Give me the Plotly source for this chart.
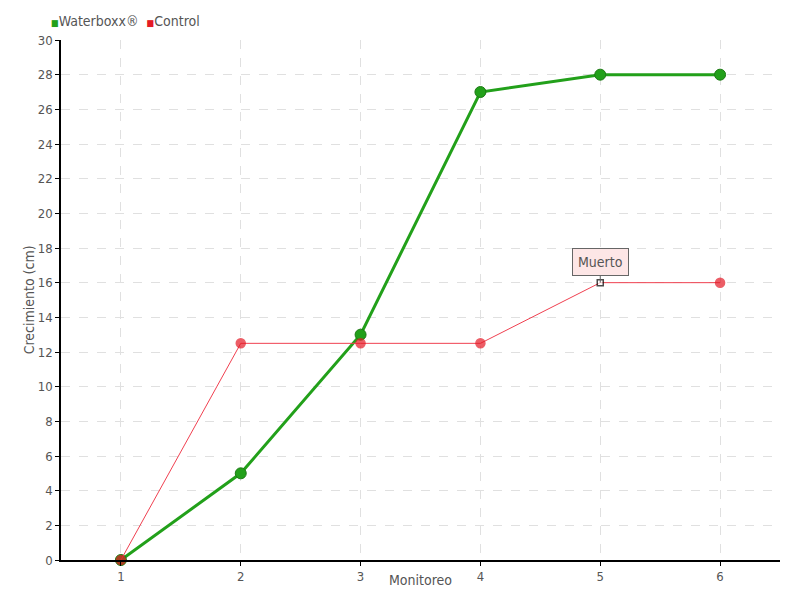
import plotly.graph_objects as go

monitoreo = [1, 2, 3, 4, 5, 6]
waterboxx = [0, 5, 13, 27, 28, 28]
control = [0, 12.5, 12.5, 12.5, 16, 16]
y_ticks = list(range(0, 31, 2))
series_names = ["Waterboxx®", "Control"]
series_colors = ["#22a01a", "#e41a26"]

FONT = "DejaVu Sans Condensed, sans-serif"
FS = 14

fig = go.Figure()
fig.add_trace(go.Scatter(
    x=monitoreo, y=waterboxx, mode="lines+markers", name=series_names[0],
    line=dict(color=series_colors[0], width=3),
    marker=dict(size=11, color=series_colors[0], line=dict(color="#1c7a14", width=1)),
    showlegend=False, cliponaxis=False))
ctrl_symbols = ["circle"] * len(control)
ctrl_colors = [series_colors[1]] * len(control)
ctrl_line = [series_colors[1]] * len(control)
ctrl_sizes = [9] * len(control)
ctrl_symbols[4] = "square"
ctrl_colors[4] = "white"
ctrl_line[4] = "black"
ctrl_sizes[4] = 6
fig.add_trace(go.Scatter(
    x=monitoreo, y=control, mode="lines+markers", name=series_names[1],
    line=dict(color="#f04050", width=1),
    marker=dict(size=ctrl_sizes, color=ctrl_colors, symbol=ctrl_symbols,
                line=dict(color=ctrl_line, width=1.5)),
    showlegend=False, cliponaxis=False))

# legend drawn as text in the top margin
legend_text = "  ".join(
    f"<span style='color:{c};font-size:9px'>■</span>{n}" for n, c in zip(series_names, series_colors))
fig.add_annotation(xref="paper", yref="paper", x=-0.017, y=1.0365, xanchor="left",
                   yanchor="middle", text=legend_text, showarrow=False,
                   font=dict(family=FONT, size=FS, color="#555"))

fig.add_annotation(x=monitoreo[4], y=control[4], text="Muerto", showarrow=True,
                   arrowhead=0, arrowwidth=1, arrowcolor="#666", ax=0, ay=-21,
                   bgcolor="#fde6e6", bordercolor="#666", borderwidth=1, borderpad=5,
                   font=dict(family=FONT, size=FS, color="#555"))

# axis titles as annotations for exact placement
fig.add_annotation(xref="paper", yref="paper", x=0.5, y=-0.0385, xanchor="center",
                   yanchor="middle", text="Monitoreo", showarrow=False,
                   font=dict(family=FONT, size=FS, color="#555"))
fig.add_annotation(xref="paper", yref="paper", x=-0.044, y=0.5, xanchor="center",
                   yanchor="middle", text="Crecimiento (cm)", showarrow=False, textangle=-90,
                   font=dict(family=FONT, size=FS, color="#555"))

fig.update_layout(
    width=800, height=600,
    margin=dict(l=53, r=28, t=32, b=48),
    paper_bgcolor="white", plot_bgcolor="white",
    font=dict(family=FONT, size=FS, color="#555"),
    showlegend=False,
    xaxis=dict(range=[0.5, 6.5], tickvals=monitoreo, ticktext=[str(m) for m in monitoreo],
               showgrid=True, gridcolor="#e0e0e0", griddash="dash",
               showline=True, linecolor="black", linewidth=1.5,
               ticks="outside", ticklen=4, tickcolor="black",
               tickfont=dict(size=13),
               zeroline=False, automargin=False),
    yaxis=dict(range=[0, 30], tickvals=y_ticks, showgrid=True, gridcolor="#e0e0e0", griddash="dash",
               showline=True, linecolor="black", linewidth=1.5,
               ticks="outside", ticklen=4, tickcolor="black", tickfont=dict(size=13),
               zeroline=False, automargin=False),
)

fig.write_html("out.html")
